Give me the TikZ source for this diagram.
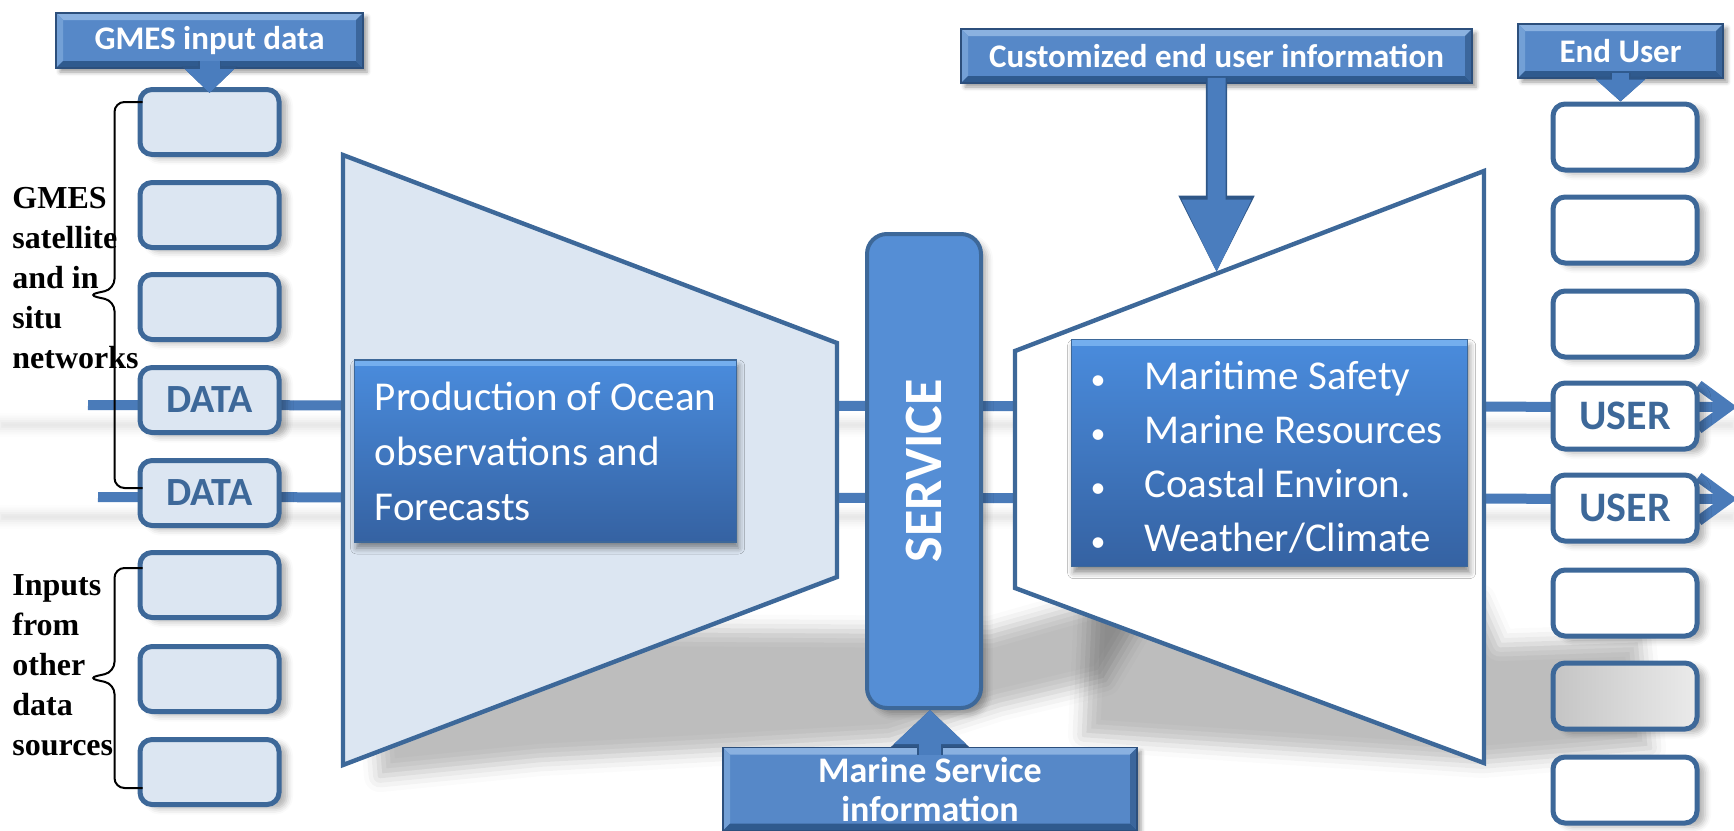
\documentclass[tikz,border=0pt]{standalone}
\usepackage{fontspec}
\setmainfont{Carlito}
\newfontfamily\sidefont{Liberation Serif}
\usetikzlibrary{arrows.meta,calc,shadows.blur}

\definecolor{boxline}{HTML}{3D6899}
\definecolor{paleblue}{HTML}{DCE6F2}
\definecolor{flowline}{HTML}{4A7BB9}
\definecolor{servfill}{HTML}{558ED5}
\definecolor{gradtop}{HTML}{4A8CDD}
\definecolor{gradbot}{HTML}{3562A2}
\definecolor{gradhl}{HTML}{74AEEE}
\definecolor{bevface}{HTML}{5688C8}
\definecolor{bevtop}{HTML}{8AB1E0}
\definecolor{bevleft}{HTML}{73A0D6}
\definecolor{bevbot}{HTML}{2F5A8E}
\definecolor{bevright}{HTML}{3B669C}
\definecolor{bevline}{HTML}{2C4F7C}
\definecolor{arrowfill}{HTML}{4A7DBE}
\definecolor{arrowline}{HTML}{2E5687}

\newcommand\bevw{3.5pt}
\newcommand\bul{\makebox[24pt][l]{\hspace{-3pt}\fontsize{15}{15}\selectfont\textbullet}}

\begin{document}
\begin{tikzpicture}[
    x=0.5pt, y=-0.5pt,
    inbox/.style={
        rectangle, draw=boxline, line width=2.5pt, fill=paleblue,
        rounded corners=6pt, inner sep=0pt,
        minimum width=69.5pt, minimum height=32.5pt,
        text=boxline, font=\bfseries\fontsize{20}{24}\selectfont,
        blur shadow={shadow xshift=4pt, shadow yshift=-2pt, shadow blur radius=3pt, shadow opacity=30}
      },
    outbox/.style={inbox, fill=white, minimum width=72pt, minimum height=33pt,
        font=\bfseries\fontsize{21}{24}\selectfont},
    funnel/.style={draw=boxline, line width=2.2pt, line join=miter},
    servbox/.style={
        rectangle, draw=boxline, line width=2pt, fill=servfill,
        rounded corners=10pt, inner sep=0pt,
        minimum width=57pt, minimum height=237pt,
        blur shadow={shadow xshift=3pt, shadow yshift=-3pt, shadow blur radius=3pt, shadow opacity=30}
      },
    blueblock/.style={
        rectangle, draw=boxline, line width=0.6pt, inner sep=0pt,
        top color=gradtop, bottom color=gradbot, text=white, align=left,
        blur shadow={shadow xshift=1pt, shadow yshift=-3pt, shadow blur radius=3pt, shadow opacity=45},
        path picture={
            \fill[gradhl] (path picture bounding box.north west) rectangle
              ([yshift=-3pt]path picture bounding box.north east);
          }
      },
    bevel/.style={
        rectangle, fill=bevface, draw=bevline, line width=0.8pt, inner sep=0pt,
        text=white, font=\bfseries\fontsize{16.5}{19}\selectfont,
        blur shadow={shadow xshift=2pt, shadow yshift=-2pt, shadow blur radius=2pt, shadow opacity=40},
        path picture={
            \path (path picture bounding box.north west) coordinate (bnw)
                  (path picture bounding box.north east) coordinate (bne)
                  (path picture bounding box.south west) coordinate (bsw)
                  (path picture bounding box.south east) coordinate (bse);
            \fill[bevtop] (bnw) -- (bne) -- ([shift={(-\bevw,-\bevw)}]bne) -- ([shift={(\bevw,-\bevw)}]bnw) -- cycle;
            \fill[bevleft] (bnw) -- (bsw) -- ([shift={(\bevw,\bevw)}]bsw) -- ([shift={(\bevw,-\bevw)}]bnw) -- cycle;
            \fill[bevbot] (bsw) -- (bse) -- ([shift={(-\bevw,\bevw)}]bse) -- ([shift={(\bevw,\bevw)}]bsw) -- cycle;
            \fill[bevright] (bne) -- (bse) -- ([shift={(-\bevw,\bevw)}]bse) -- ([shift={(-\bevw,-\bevw)}]bne) -- cycle;
          }
      },
    flow/.style={draw=flowline, line width=5pt, -{Straight Barb[length=15pt,width=22pt]}},
    blockarrow/.style n args={5}{
        draw=arrowfill, line width=#1, -{Triangle[width=#2,length=#3]},
        preaction={draw=arrowline, line width=#1+1.6pt, -{Triangle[width=#4,length=#5]}}
      },
    bracket/.style={draw=black, line width=1pt, rounded corners=5pt},
    floor/.style={blur shadow={shadow xshift=0pt, shadow yshift=0pt, shadow blur radius=8pt, shadow opacity=26}},
    sidelabel/.style={anchor=west, align=left, inner sep=0pt,
        font=\sidefont\bfseries\fontsize{16}{20}\selectfont},
  ]
  \useasboundingbox (0,0) rectangle (1734,830);

  % grey floor shadow behind the two funnels
  \path[floor] (375,712) -- (640,630) -- (990,632) -- (1110,598) -- (1150,605) -- (1105,680)
    -- (1000,705) -- (890,740) -- (720,750) -- (540,760) -- (380,776) -- cycle;
  \path[floor] (1084,735) -- (1090,600) -- (1480,600) -- (1500,645) -- (1640,640)
    -- (1650,748) -- (1482,762) -- cycle;
  \foreach \y in {425,517}
    \path[blur shadow={shadow xshift=0pt, shadow yshift=0pt, shadow blur radius=4pt, shadow opacity=12}]
      (0,\y-4) rectangle (1734,\y+4);

  % the two data streams
  \coordinate (in1) at (88,405);
  \coordinate (in2) at (98,497);
  \coordinate (out1) at (1737,407);
  \coordinate (out2) at (1737,499);
  \draw[flow] (in1) -- (out1);
  \draw[flow] (in2) -- (out2);

  \draw[funnel, fill=paleblue] (343,155) coordinate (lt1) -- (837,343) -- (837,577) -- (343,765) -- cycle;
  \draw[funnel, fill=white] (1015,351) coordinate (rt1) -- (1484,171) coordinate (rt2)
    -- (1484,763) -- (1015,588) -- cycle;

  \node[servbox] (service) at (924,471) {};
  \node[rotate=90, text=white, font=\bfseries\fontsize{27}{30}\selectfont] at (service) {SERVICE};

  \node[blueblock, anchor=west, minimum width=191pt, minimum height=91pt,
        font=\fontsize{20.5}{27.5}\selectfont] (prod) at (354,451)
    {Production of Ocean\\observations and\\Forecasts};
  \node[blueblock, anchor=north west, minimum width=198pt, minimum height=113.5pt,
        font=\fontsize{20.5}{27}\selectfont] (topics) at (1071,339)
    {\rule{0pt}{18.5pt}\bul Maritime Safety\\\bul Marine Resources\\\bul Coastal Environ.\\\bul Weather/Climate};

  \foreach \i/\y/\txt in {1/122/{},2/215/{},3/307/{},4/400/DATA,5/493/DATA,6/585/{},7/679/{},8/772/{}}
    \node[inbox] (l\i) at (209.5,\y) {\txt};
  \foreach \i/\y/\txt in {1/137/{},2/230/{},3/324/{},4/416/USER,5/508/USER,6/603/{},8/790/{}}
    \node[outbox] (r\i) at (1625,\y) {\txt};
  \node[outbox, left color=black!23, right color=black!8] (r7) at (1625,696) {}; % sits in the floor shadow

  \node[bevel, minimum width=153.5pt, minimum height=27.5pt] (gmes) at (209.5,40.5) {GMES input data};
  \node[bevel, minimum width=255.5pt, minimum height=27pt] (custom) at (1216.5,56) {Customized end user information};
  \node[bevel, minimum width=102.5pt, minimum height=27pt] (enduser) at (1620.5,51) {End User};
  \node[bevel, minimum width=207pt, minimum height=41.5pt, align=center,
        font=\bfseries\fontsize{18}{19.5}\selectfont] (marine) at (930,789) {Marine Service\\information};

  \coordinate (hit) at (intersection of custom.south--custom.north and rt1--rt2);
  \draw[blockarrow={10pt}{24pt}{12pt}{27pt}{13.5pt}] ([yshift=4pt]gmes.south) -- ([yshift=-3pt]l1.north);
  \draw[blockarrow={9pt}{32pt}{37pt}{35pt}{39pt}] ([yshift=3pt]custom.south) -- (hit);
  \draw[blockarrow={8.5pt}{24pt}{11pt}{27pt}{12.5pt}] ([yshift=3pt]enduser.south) -- (enduser.south |- r1.north);
  \draw[blockarrow={11pt}{35pt}{17pt}{38pt}{18.5pt}] ([yshift=-4pt]marine.north) -- (marine.north |- service.south);

  % braces grouping the input boxes
  \path ([shift={(5,15)}]l1.north west) coordinate (ba) ([shift={(5,-5)}]l5.west) coordinate (bb)
        ([shift={(5,18)}]l6.north west) coordinate (bc) ([shift={(5,16)}]l8.west) coordinate (bd);
  \draw[bracket] (ba) -| ($(ba)!0.5!(bb)+(-28,-6)$) -- ($(ba)!0.5!(bb)+(-55,0)$)
    -- ($(ba)!0.5!(bb)+(-28,6)$) |- (bb);
  \draw[bracket] (bc) -| ($(bc)!0.5!(bd)+(-28,-6)$) -- ($(bc)!0.5!(bd)+(-55,0)$)
    -- ($(bc)!0.5!(bd)+(-28,6)$) |- (bd);

  \node[sidelabel] (netlabel) at (12,278) {GMES\\satellite\\and in\\situ\\networks};
  \node[sidelabel] (srclabel) at (12,665) {Inputs\\from\\other\\data\\sources};
\end{tikzpicture}
\end{document}
